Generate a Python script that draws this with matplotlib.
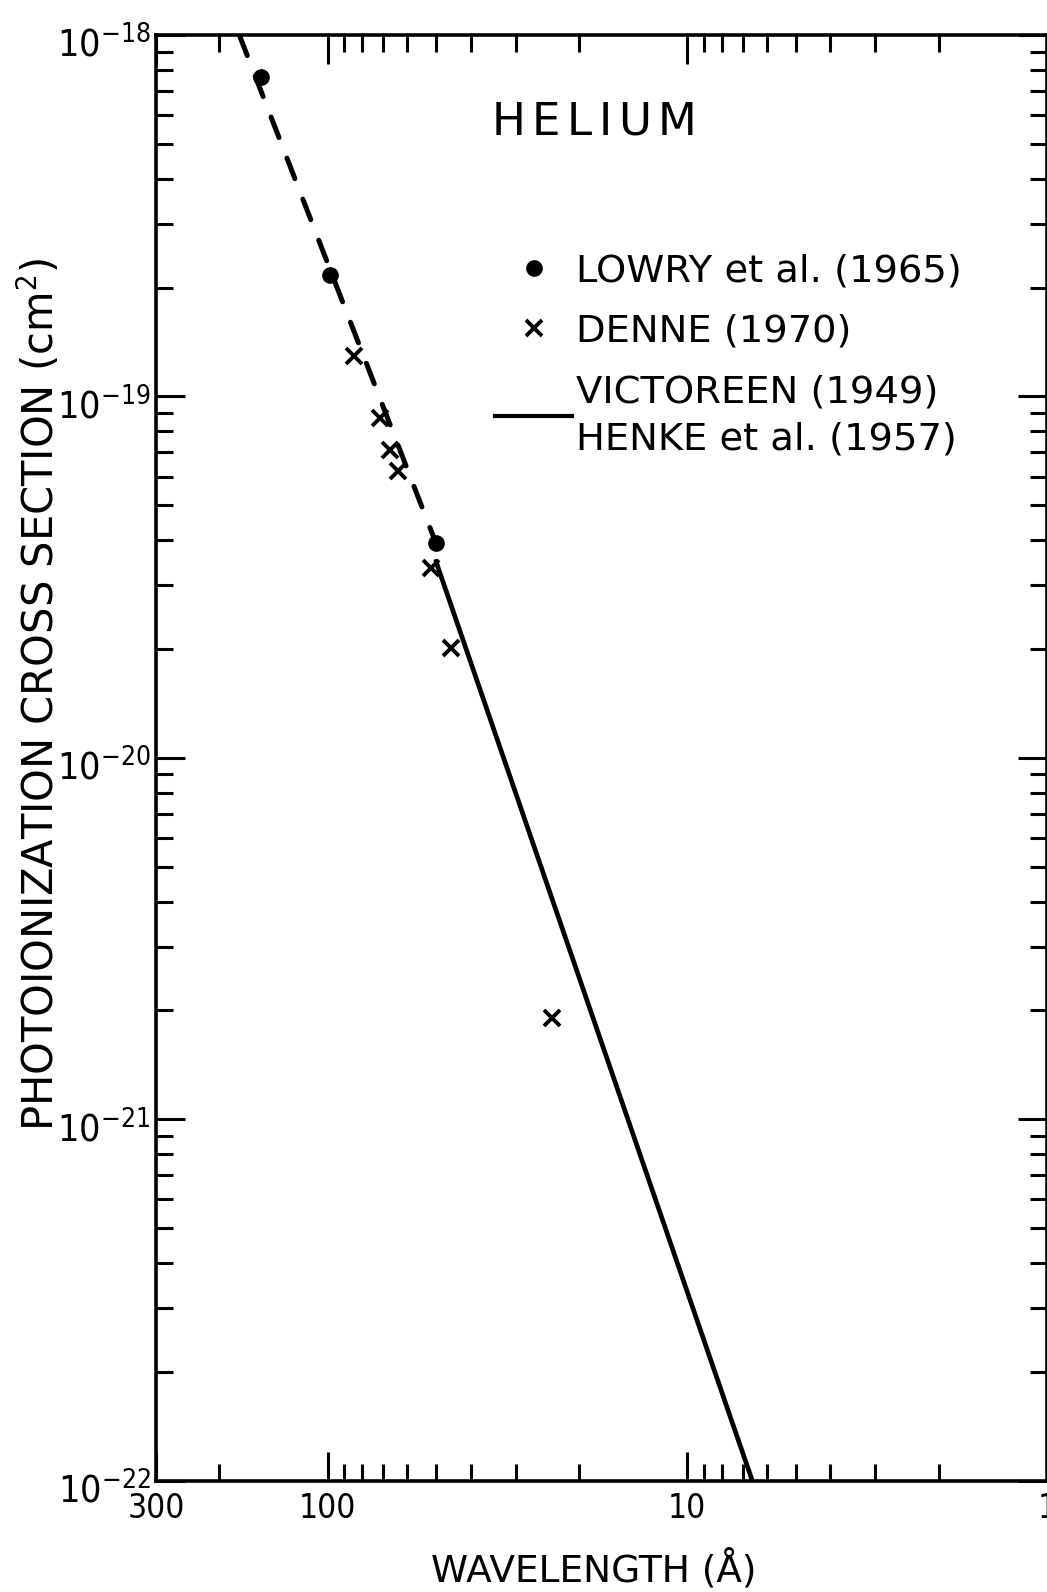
#!/usr/bin/env python3
"""Helium photoionization cross section against wavelength (log-log).

Writes out.png
"""

import matplotlib
matplotlib.use("Agg")
import matplotlib.pyplot as plt
from matplotlib.lines import Line2D
from matplotlib.transforms import ScaledTranslation
from matplotlib.ticker import FixedLocator, FixedFormatter, LogLocator, NullFormatter

# LOWRY et al. (1965)
lowry_wl = [153.0, 98.6, 50.0]
lowry_xs = [7.65e-19, 2.17e-19, 3.93e-20]

# DENNE (1970)
denne_wl = [84.5, 71.6, 67.2, 63.8, 51.6, 45.5, 23.8]
denne_xs = [1.29e-19, 8.7e-20, 7.1e-20, 6.2e-20, 3.36e-20, 2.01e-20, 1.9e-21]

# dashed curve through the Lowry points
guide_wl = [176.0, 50.0]
guide_xs = [1.0e-18, 3.93e-20]

# VICTOREEN (1949) / HENKE et al. (1957)
vict_wl = [50.0, 6.6]
vict_xs = [3.5e-20, 1.0e-22]

x_ticks = [300, 100, 10, 1]
x_labels = ["300", "100", "10", "1"]
y_ticks = [1e-22, 1e-21, 1e-20, 1e-19, 1e-18]
y_labels = [r"$10^{-22}$", r"$10^{-21}$", r"$10^{-20}$", r"$10^{-19}$", r"$10^{-18}$"]


def main():
    plt.rcParams["font.family"] = "DejaVu Sans"
    plt.rcParams["mathtext.fontset"] = "custom"
    plt.rcParams["mathtext.rm"] = "DejaVu Sans:stretch=condensed"
    plt.rcParams["mathtext.it"] = "DejaVu Sans:stretch=condensed"
    plt.rcParams["mathtext.sf"] = "DejaVu Sans:stretch=condensed"

    fig = plt.figure(figsize=(10.47, 15.92), dpi=100)
    ax = fig.add_axes([0.149, 0.070, 0.851, 0.908])
    ax.set_xscale("log")
    ax.set_yscale("log")
    ax.set_xlim(300, 1)
    ax.set_ylim(1e-22, 1e-18)

    ax.plot(guide_wl, guide_xs, color="black", lw=3.6, ls=(0, (4.4, 4.4)),
            dash_capstyle="round", solid_capstyle="round")
    ax.plot(vict_wl, vict_xs, color="black", lw=3.4, solid_capstyle="round")
    ax.plot(lowry_wl, lowry_xs, "o", color="black", ms=11, zorder=4)
    ax.plot(denne_wl, denne_xs, "x", color="black", ms=11, mew=2.8, zorder=4)

    # ticks on all four sides, pointing in
    ax.xaxis.set_major_locator(FixedLocator(x_ticks))
    ax.xaxis.set_major_formatter(FixedFormatter(x_labels))
    ax.xaxis.set_minor_locator(LogLocator(base=10, subs=range(2, 10), numticks=20))
    ax.xaxis.set_minor_formatter(NullFormatter())
    ax.yaxis.set_major_locator(FixedLocator(y_ticks))
    ax.yaxis.set_major_formatter(FixedFormatter(y_labels))
    ax.yaxis.set_minor_locator(LogLocator(base=10, subs=range(2, 10), numticks=20))
    ax.yaxis.set_minor_formatter(NullFormatter())
    ax.tick_params(which="both", direction="in", top=True, right=True, width=2.2, color="black")
    ax.tick_params(which="major", length=21)
    ax.tick_params(which="minor", length=12)
    ax.tick_params(axis="x", which="major", pad=8, labelsize=24)
    ax.tick_params(axis="y", which="major", pad=4, labelsize=27)
    for lab in ax.get_xticklabels():
        lab.set_fontstretch("condensed")
    # the "10" sits a little below its tick in the original
    shift = ScaledTranslation(0, -5 / 72, fig.dpi_scale_trans)
    for lab in ax.get_yticklabels():
        lab.set_transform(lab.get_transform() + shift)
    for s in ax.spines.values():
        s.set_linewidth(2.6)

    ax.text(0.49, 0.940, r"$\mathregular{H\,E\,L\,I\,U\,M}$", transform=ax.transAxes,
            ha="center", va="center", fontsize=32.5)

    handles = [
        Line2D([], [], ls="none", marker="o", color="black", ms=11),
        Line2D([], [], ls="none", marker="x", color="black", ms=11, mew=2.8),
        Line2D([], [], color="black", lw=3.0),
    ]
    labels = ["LOWRY et al. (1965)", "DENNE (1970)", "VICTOREEN (1949)\nHENKE et al. (1957)"]
    leg = ax.legend(handles, labels, loc="upper left", bbox_to_anchor=(0.473, 0.841),
                    bbox_transform=fig.transFigure, frameon=False, fontsize=27.7,
                    handlelength=2.0, handletextpad=0.1, labelspacing=0.64,
                    borderpad=0, borderaxespad=0, numpoints=1)
    for t in leg.get_texts():
        t.set_linespacing(1.38)

    fig.text(39 / 1047, 1 - 695 / 1592, r"PHOTOIONIZATION CROSS SECTION (cm$^2$)",
             rotation=90, ha="center", va="center", fontsize=30)
    fig.text(594 / 1047, 1 - 1569 / 1592, "WAVELENGTH (Å)", ha="center", va="center",
             fontsize=27)

    fig.savefig("out.png", dpi=100)
    plt.close(fig)


if __name__ == "__main__":
    main()
